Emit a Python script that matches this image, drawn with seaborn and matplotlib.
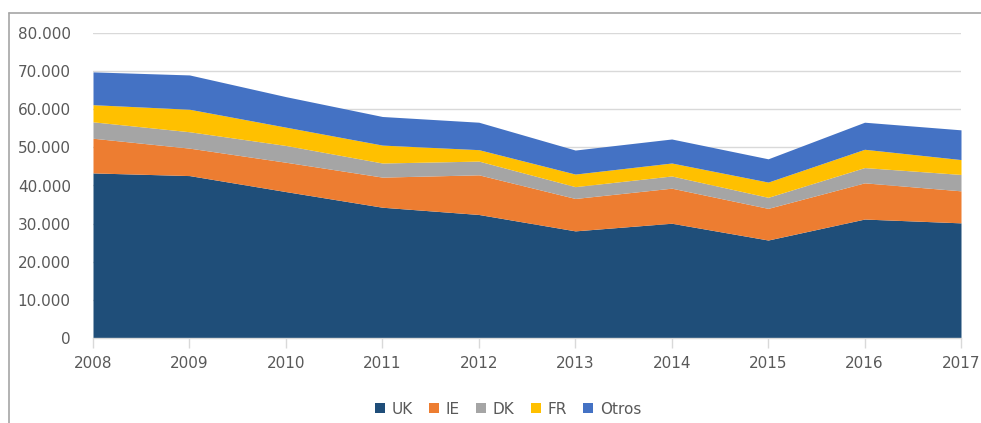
import matplotlib
matplotlib.use("Agg")
import matplotlib.pyplot as plt
from matplotlib.lines import Line2D
from matplotlib.patches import Patch
from matplotlib.ticker import FuncFormatter
import seaborn as sns
import numpy as np

years = [2008, 2009, 2010, 2011, 2012, 2013, 2014, 2015, 2016, 2017]
series_names = ["UK", "IE", "DK", "FR", "Otros"]
uk = [43300, 42600, 38400, 34300, 32400, 28100, 30100, 25700, 31200, 30200]
ie = [9100, 7200, 7700, 7900, 10400, 8500, 9200, 8300, 9500, 8400]
dk = [4300, 4300, 4400, 3700, 3600, 3100, 3200, 2900, 4000, 4300]
fr = [4500, 5900, 4800, 4700, 3000, 3300, 3400, 4000, 4800, 3900]
otros = [8600, 9000, 8000, 7500, 7200, 6300, 6300, 6100, 7100, 7800]
colors = ["#1F4E79", "#ED7D31", "#A5A5A5", "#FFC000", "#4472C4"]

sns.set_theme(style="white")
plt.rcParams["font.family"] = ["DejaVu Sans"]

fig = plt.figure(figsize=(9.81, 4.23), dpi=100)
ax = fig.add_axes([93 / 981, 1 - 338 / 423, (961 - 93) / 981, (338 - 33) / 423])

ax.stackplot(years, uk, ie, dk, fr, otros, colors=colors, labels=series_names, linewidth=0)

ax.set_xlim(2008, 2017)
ax.set_ylim(0, 80000)
ax.set_yticks(np.arange(0, 80001, 10000))
ax.set_xticks(years)
ax.yaxis.set_major_formatter(FuncFormatter(lambda v, p: f"{int(v):,}".replace(",", ".")))
ax.grid(axis="y", color="#D9D9D9", linewidth=1)
ax.set_axisbelow(True)
for s in ["top", "right", "left"]:
    ax.spines[s].set_visible(False)
ax.spines["bottom"].set_color("#D9D9D9")
ax.spines["bottom"].set_linewidth(1)
ax.tick_params(axis="x", which="major", bottom=True, length=7, width=1, color="#D9D9D9",
               labelsize=11, labelcolor="#595959", pad=6)
ax.tick_params(axis="y", left=False, labelsize=11, labelcolor="#595959", pad=10)

handles = [Patch(facecolor=c, edgecolor="none") for c in colors]
fig.legend(handles, series_names, loc="center", bbox_to_anchor=(508 / 981, 1 - 409 / 423),
           ncol=5, frameon=False, fontsize=11, labelcolor="#595959",
           handlelength=0.65, handleheight=0.65, handletextpad=0.45, columnspacing=1.05)

# outer frame (top and left edges visible)
fig.add_artist(Line2D([9 / 981, 1.0], [1 - 13 / 423, 1 - 13 / 423], transform=fig.transFigure,
                      color="#A6A6A6", linewidth=1.2))
fig.add_artist(Line2D([9 / 981, 9 / 981], [0.0, 1 - 13 / 423], transform=fig.transFigure,
                      color="#A6A6A6", linewidth=1.2))

fig.savefig("out.png", dpi=100, facecolor="white")
